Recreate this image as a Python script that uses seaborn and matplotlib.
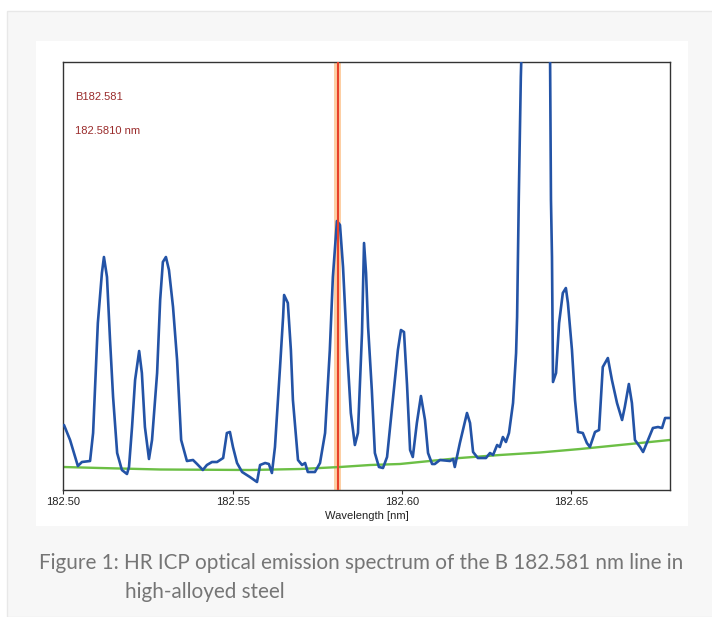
import matplotlib
matplotlib.use("Agg")
import matplotlib.pyplot as plt
import seaborn as sns
from matplotlib.patches import Rectangle

# spectrum (wavelength in nm, intensity in arbitrary counts)
wavelength = [182.5002, 182.5020, 182.5035, 182.5043, 182.5055, 182.5079, 182.5088, 182.5102,
              182.5114, 182.5120, 182.5129, 182.5138, 182.5147, 182.5159, 182.5173, 182.5188,
              182.5194, 182.5203, 182.5212, 182.5224, 182.5232, 182.5241, 182.5253, 182.5262,
              182.5277, 182.5286, 182.5294, 182.5303, 182.5312, 182.5324, 182.5336, 182.5348,
              182.5365, 182.5383, 182.5395, 182.5412, 182.5424, 182.5439, 182.5454, 182.5472,
              182.5483, 182.5492, 182.5501, 182.5513, 182.5528, 182.5551, 182.5572, 182.5581,
              182.5596, 182.5607, 182.5616, 182.5625, 182.5640, 182.5649, 182.5652, 182.5663,
              182.5672, 182.5678, 182.5693, 182.5705, 182.5714, 182.5722, 182.5743, 182.5758,
              182.5773, 182.5787, 182.5796, 182.5808, 182.5817, 182.5826, 182.5838, 182.5849,
              182.5861, 182.5870, 182.5882, 182.5888, 182.5894, 182.5900, 182.5911, 182.5920,
              182.5932, 182.5944, 182.5956, 182.5973, 182.5988, 182.5997, 182.6006, 182.6015,
              182.6024, 182.6032, 182.6044, 182.6056, 182.6068, 182.6077, 182.6089, 182.6097,
              182.6112, 182.6142, 182.6151, 182.6156, 182.6171, 182.6192, 182.6201, 182.6210,
              182.6224, 182.6248, 182.6260, 182.6269, 182.6281, 182.6289, 182.6298, 182.6307,
              182.6316, 182.6328, 182.6337, 182.6340, 182.6345, 182.6351, 182.6354, 182.6396,
              182.6437, 182.6440, 182.6443, 182.6446, 182.6455, 182.6464, 182.6475, 182.6484,
              182.6490, 182.6502, 182.6511, 182.6520, 182.6534, 182.6546, 182.6555, 182.6570,
              182.6582, 182.6593, 182.6608, 182.6620, 182.6635, 182.6650, 182.6658, 182.6670,
              182.6679, 182.6688, 182.6703, 182.6712, 182.6723, 182.6741, 182.6756, 182.6768,
              182.6777, 182.6785, 182.6791]
intensity = [650, 500, 330, 240, 280, 290, 570, 1670,
             2170, 2330, 2130, 1500, 930, 370, 200, 160,
             230, 630, 1100, 1390, 1170, 630, 310, 500,
             1170, 1900, 2280, 2330, 2200, 1830, 1300, 500,
             290, 300, 260, 200, 250, 280, 280, 320,
             570, 580, 430, 270, 180, 130, 80, 250,
             270, 260, 170, 430, 1230, 1730, 1950, 1870,
             1400, 900, 300, 250, 270, 180, 180, 270,
             570, 1400, 2130, 2690, 2650, 2230, 1400, 770,
             450, 570, 1570, 2470, 2170, 1630, 1000, 370,
             230, 220, 330, 900, 1400, 1600, 1580, 1050,
             400, 330, 670, 940, 700, 370, 260, 260,
             300, 290, 310, 230, 470, 770, 670, 380,
             320, 320, 370, 350, 450, 430, 530, 480,
             570, 870, 1370, 1730, 2930, 4130, 4500, 6900,
             4500, 2900, 2330, 1080, 1170, 1670, 1970, 2020,
             1870, 1400, 900, 580, 570, 470, 430, 580,
             600, 1230, 1320, 1100, 870, 700, 830, 1060,
             870, 500, 430, 380, 470, 620, 630, 620,
             720, 720, 720]

# fitted background
bg_wavelength = [182.5000, 182.5108, 182.5286, 182.5551, 182.5699, 182.5817, 182.5906,
                 182.5994, 182.6171, 182.6289, 182.6407, 182.6526, 182.6644, 182.6791]
bg_intensity = [230, 220, 205, 200, 210, 230, 250, 260, 320, 350, 375, 410, 450, 500]

line_name = "B182.581"
line_wl = 182.581
x_ticks = [182.50, 182.55, 182.60, 182.65]
caption1 = "Figure 1: HR ICP optical emission spectrum of the B 182.581 nm line in"
caption2 = "high-alloyed steel"

sns.set_style("white")
plt.rcParams["font.family"] = ["Liberation Sans", "DejaVu Sans"]

W, H = 712, 617
fig = plt.figure(figsize=(W / 100, H / 100), dpi=100)
fig.patch.set_facecolor("white")

# grey page panel and white chart card
fig.patches.append(Rectangle((7 / W, 0), 1, 1 - 11 / H, transform=fig.transFigure,
                             facecolor="#f7f7f7", edgecolor="#e8e8e8", lw=1, zorder=-2))
fig.patches.append(Rectangle((36 / W, 1 - 526 / H), (688 - 36) / W, (526 - 41) / H,
                             transform=fig.transFigure, facecolor="white", edgecolor="none",
                             zorder=-1))

ax = fig.add_axes([63.3 / W, 1 - 490 / H, (669.5 - 63.3) / W, (490 - 62) / H])
ax.set_zorder(2)
ax.set_facecolor("white")

# marker band for the B line
ax.axvspan(line_wl - 0.0011, line_wl + 0.0011, color="#fdcfa4", lw=0, zorder=1)
sns.lineplot(x=bg_wavelength, y=bg_intensity, ax=ax, color="#6cbf45", lw=1.7,
             sort=False, estimator=None, zorder=2)
sns.lineplot(x=wavelength, y=intensity, ax=ax, color="#2353a6", lw=1.9,
             sort=False, estimator=None, zorder=3)
ax.axvline(line_wl, color="#e8412a", lw=1.5, zorder=4)

ax.set_xlim(182.50, 182.6790)
ax.set_ylim(0, 4280)
ax.set_yticks([])
ax.set_xticks(x_ticks)
ax.set_xticklabels([f"{t:.2f}" for t in x_ticks], fontsize=8, color="#222222")
ax.tick_params(axis="x", direction="out", length=3, width=0.8, color="#333333", pad=2,
               bottom=True)
ax.set_xlabel("Wavelength [nm]", fontsize=8, color="#222222", labelpad=3)
for s in ax.spines.values():
    s.set_color("#333333")
    s.set_linewidth(1.0)

ax.text(0.019, 0.919, line_name, transform=ax.transAxes, fontsize=8, color="#9a2c2c", va="center")
ax.text(0.019, 0.8395, f"{line_wl:.4f} nm", transform=ax.transAxes, fontsize=8,
        color="#9a2c2c", va="center")

# caption, sized to the width it takes in the reference
cap_font = ["Lato", "DejaVu Sans"]
t1 = fig.text(38.6 / W, 1 - 563 / H, caption1, fontsize=13, color="#757575",
              family=cap_font, va="center", ha="left")
t2 = fig.text(125 / W, 1 - 592 / H, caption2, fontsize=13, color="#757575",
              family=cap_font, va="center", ha="left")
fig.canvas.draw()
w1 = t1.get_window_extent().width
size = 13 * 641 / w1
t1.set_fontsize(size)
t2.set_fontsize(size)

fig.savefig("out.png", dpi=100, facecolor=fig.get_facecolor())
